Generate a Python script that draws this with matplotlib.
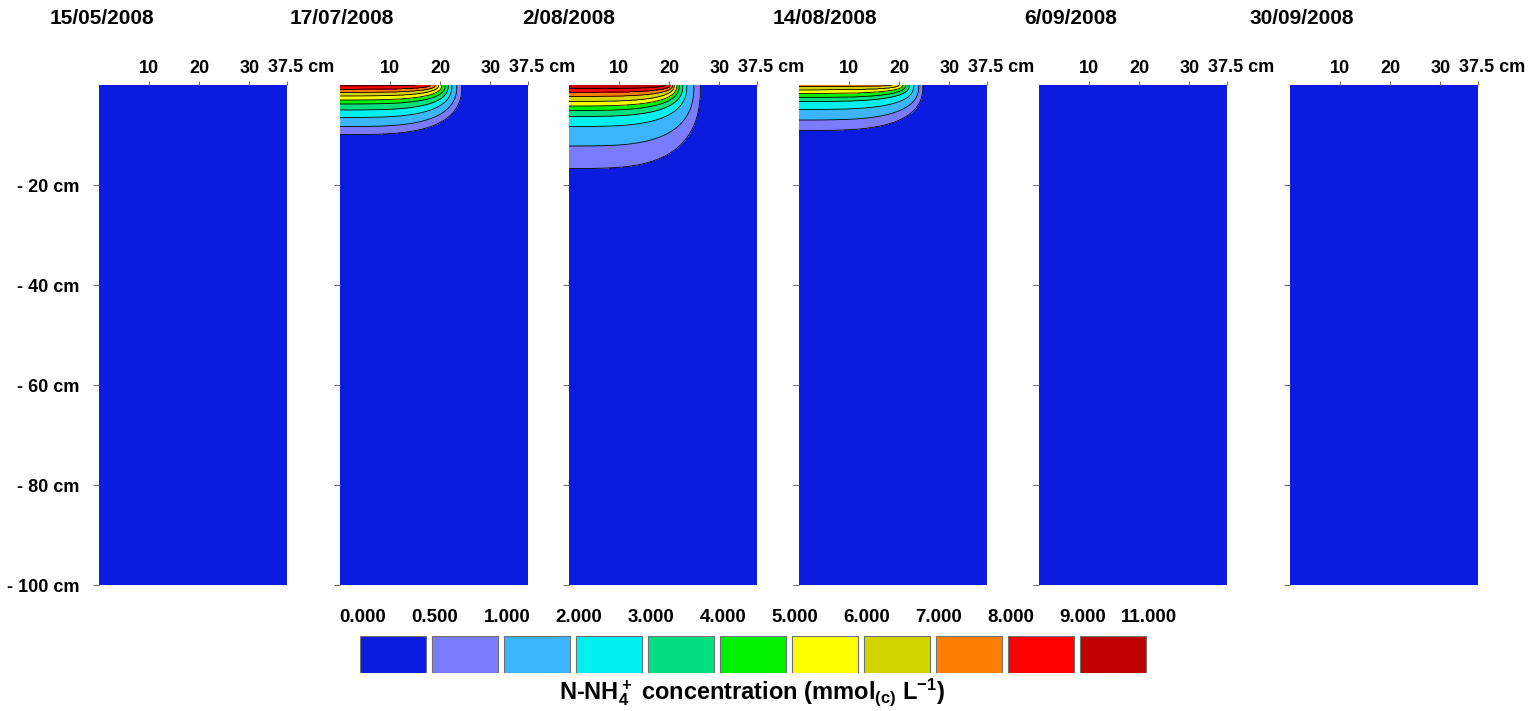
import numpy as np
import matplotlib
matplotlib.use('Agg')
import matplotlib.pyplot as plt

plt.rcParams['font.family'] = ['Liberation Sans', 'DejaVu Sans']
plt.rcParams['font.weight'] = 'bold'
plt.rcParams['mathtext.fontset'] = 'custom'
plt.rcParams['mathtext.rm'] = 'Liberation Sans:bold'
plt.rcParams['mathtext.it'] = 'Liberation Sans:bold'
plt.rcParams['mathtext.bf'] = 'Liberation Sans:bold'
plt.rcParams['mathtext.default'] = 'rm'

dates = ['15/05/2008', '17/07/2008', '2/08/2008', '14/08/2008', '6/09/2008', '30/09/2008']
levels = [0, 0.5, 1, 2, 3, 4, 5, 6, 7, 8, 9, 11]
colors = ['#0b1be0', '#7b7bff', '#3cb4ff', '#00f0f0', '#00e080', '#00f000',
          '#ffff00', '#d4d400', '#ff8000', '#ff0000', '#c00000']

# depth (cm) of each iso-line (0.5, 1, 2, ... ) at x = 0, and how far (cm) it reaches along the surface
depth_1707 = [9.9, 8.3, 6.5, 5.0, 3.8, 3.0, 2.2, 1.5, 0.9, 0.15]
reach_1707 = [24.3, 23.3, 22.3, 21.6, 21.0, 20.3, 19.7, 19.0, 18.0, 15.0]
depth_0208 = [16.7, 12.2, 8.3, 6.3, 5.1, 4.2, 3.3, 2.3, 1.5, 0.7]
reach_0208 = [26.2, 24.9, 23.5, 22.7, 22.0, 21.5, 21.0, 20.7, 20.2, 19.2]
depth_1408 = [9.1, 7.0, 4.9, 3.3, 2.5, 1.7, 1.0, 0.3]
reach_1408 = [24.7, 23.9, 22.9, 22.0, 21.3, 20.7, 19.9, 18.5]

depths = [[], depth_1707, depth_0208, depth_1408, [], []]
reaches = [[], reach_1707, reach_0208, reach_1408, [], []]

y_ticks = [-20, -40, -60, -80, -100]
y_labels = ['- 20 cm', '- 40 cm', '- 60 cm', '- 80 cm', '- 100 cm']
x_ticks = [10, 20, 30, 37.5]


def field(depth, reach, X, Z):
    f = np.zeros_like(X)
    if not depth:
        return f
    n = len(depth)
    r = [(X / w) ** 3.5 + (Z / d) ** 2.5 for d, w in zip(depth, reach)]
    with np.errstate(divide='ignore', invalid='ignore'):
        f = levels[1] / np.maximum(r[0], 1.0) * 0.999
        for k in range(n - 1):
            m = (r[k] < 1) & (r[k + 1] >= 1)
            t = (r[k] - 1) / (r[k] - r[k + 1])
            f[m] = levels[k + 1] + t[m] * (levels[k + 2] - levels[k + 1])
        m = r[n - 1] < 1
        f[m] = levels[n] + 0.8 * (levels[n + 1] - levels[n]) * (1 - r[n - 1][m])
    return f


W, H = 1532, 711
fig = plt.figure(figsize=(W / 100, H / 100), dpi=100)

panel_left = [99, 340, 569, 799, 1039, 1290]
title_x = [50, 290, 522, 773, 1024, 1250]

x = np.linspace(0, 37.5, 376)
z = np.linspace(0, 100, 1001)
X, Z = np.meshgrid(x, z)

for i in range(6):
    ax = fig.add_axes([panel_left[i] / W, 1 - 585 / H, 188 / W, 500 / H])
    F = field(depths[i], reaches[i], X, Z)
    ax.contourf(x, -z, F, levels=levels, colors=colors)
    if depths[i]:
        ax.contour(x, -z, F, levels=levels[1:len(depths[i]) + 1], colors='k', linewidths=0.6)
    ax.set_xlim(0, 37.5)
    ax.set_ylim(-100, 0)
    for s in ax.spines.values():
        s.set_visible(False)
    ax.xaxis.tick_top()
    ax.set_xticks(x_ticks)
    ax.set_xticklabels(['10', '20', '30', ''])
    ax.set_yticks(y_ticks)
    ax.set_yticklabels(y_labels if i == 0 else [])
    ax.tick_params(axis='x', length=3, color='#707070', labelsize=13, pad=3)
    ax.tick_params(axis='y', length=4.5, color='#707070', labelsize=13, pad=9.5)
    ax.annotate('37.5 cm', xy=(37.5, 0), xytext=(-19, 18), textcoords='offset pixels',
                ha='left', va='center', fontsize=13, annotation_clip=False)
    fig.text(title_x[i] / W, 1 - 18 / H, dates[i], ha='left', va='center', fontsize=15)

# legend of colour classes
cax = fig.add_axes([360 / W, 1 - 673 / H, 792 / W, 37 / H])
cax.bar(np.arange(11), np.ones(11), width=66 / 72, align='edge', color=colors,
        edgecolor='#707070', linewidth=0.8)
cax.set_xlim(0, 11)
cax.set_ylim(0, 1)
cax.axis('off')
for i, v in enumerate(levels):
    xpos = i if i < 11 else 10 + 66 / 72
    cax.text(xpos + 0.04, 1.51, '%.3f' % v, ha='center', va='center', fontsize=13.5, clip_on=False)

fig.text(752 / W, 1 - 692 / H, r'N-NH$_4^+$ concentration (mmol$_{(c)}$ L$^{-1}$)',
         ha='center', va='center', fontsize=17)

fig.savefig('out.png', dpi=100)
